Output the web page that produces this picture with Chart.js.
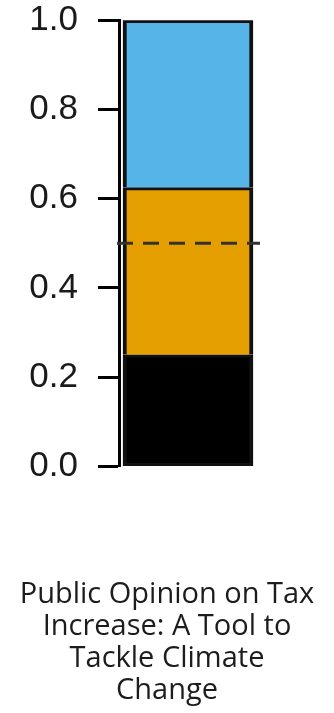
<!DOCTYPE html>
<html>
<head>
<meta charset="utf-8">
<script src="https://cdn.jsdelivr.net/npm/chart.js@4/dist/chart.umd.min.js"></script>
<style>
  html, body { margin: 0; padding: 0; background: #fff; }
  #wrap { width: 334px; height: 713px; position: relative; }
</style>
</head>
<body>
<div id="wrap"><canvas id="stack-chart"></canvas></div>
<script>
const categories = ['Tax increase'];
const seriesNames = ['Oppose', 'Neutral', 'Support'];
const bottomValues = [0.25];
const middleValues = [0.375];
const topValues = [0.375];
const tickLabels = ['0.0', '0.2', '0.4', '0.6', '0.8', '1.0'];
const referenceLine = 0.5;
const titleLines = ['Public Opinion on Tax', 'Increase: A Tool to', 'Tackle Climate', 'Change'];

// dashed horizontal reference line across the bar
const refLinePlugin = {
    id: 'refLine',
    afterDatasetsDraw(chart) {
        const ctx = chart.ctx
        const y = chart.scales.y.getPixelForValue(referenceLine)
        ctx.save()
        ctx.strokeStyle = '#333'
        ctx.lineWidth = 3
        ctx.setLineDash([16, 10])
        ctx.beginPath()
        ctx.moveTo(chart.chartArea.left - 2, y)
        ctx.lineTo(chart.chartArea.right + 3, y)
        ctx.stroke()
        ctx.restore()
    }
}

document.addEventListener('DOMContentLoaded', () => {
    let canvas = document.querySelector('#stack-chart')
    let seg = (label, data, color, bottom) => ({
        label: label,
        data: data,
        backgroundColor: color,
        borderColor: '#111',
        borderWidth: {left: 4, right: 4, top: 3, bottom: bottom},
        borderSkipped: false,
        barThickness: 130
    })
    new Chart(canvas, {
        type: 'bar',
        data: {
            labels: categories,
            datasets: [
                seg(seriesNames[0], bottomValues, '#000000', 3),
                seg(seriesNames[1], middleValues, '#E69F00', 0),
                seg(seriesNames[2], topValues, '#56B4E9', 0)
            ]
        },
        options: {
            responsive: true,
            maintainAspectRatio: false,
            animation: false,
            layout: { padding: 0 },
            plugins: {
                legend: { display: false },
                tooltip: { enabled: false },
                title: {
                    display: true,
                    position: 'bottom',
                    text: titleLines,
                    color: '#1c1c1c',
                    font: { family: 'Open Sans', size: 29, weight: 'normal', lineHeight: 1.11 },
                    padding: { top: 112, bottom: 6 }
                }
            },
            scales: {
                x: { display: false, stacked: true },
                y: {
                    stacked: true,
                    min: 0,
                    max: 1,
                    afterFit: s => { s.width = 119 },
                    ticks: {
                        stepSize: 0.2,
                        padding: 20,
                        color: '#1a1a1a',
                        font: { family: 'Liberation Sans', size: 35, lineHeight: 0.02 },
                        callback: (v, i) => tickLabels[i]
                    },
                    grid: {
                        drawOnChartArea: false,
                        drawTicks: true,
                        tickLength: 21,
                        tickWidth: 3,
                        tickColor: '#000'
                    },
                    border: { display: true, width: 3, color: '#000' }
                },
                // empty axis on the right, only reserves space so the bar sits where it should
                spacer: {
                    type: 'linear',
                    position: 'right',
                    afterFit: s => { s.width = 77 },
                    ticks: { display: false },
                    grid: { display: false },
                    border: { display: false }
                }
            }
        },
        plugins: [refLinePlugin]
    })
});
</script>
</body>
</html>
